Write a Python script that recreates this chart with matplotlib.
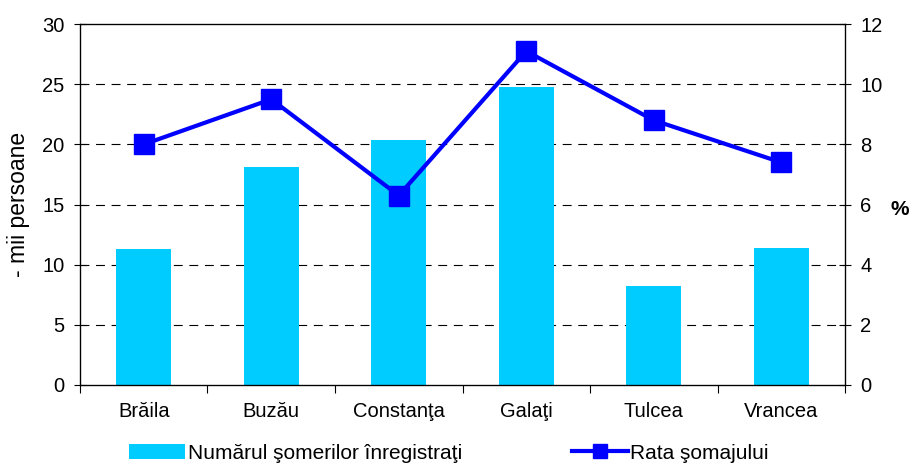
import matplotlib
matplotlib.use("Agg")
import matplotlib.pyplot as plt
from matplotlib.lines import Line2D
from matplotlib.patches import Patch

plt.rcParams['font.family'] = ['Liberation Sans', 'DejaVu Sans']

categories = ["Brăila", "Buzău", "Constanţa", "Galaţi", "Tulcea", "Vrancea"]
unemployed = [11.3, 18.1, 20.4, 24.8, 8.2, 11.4]
rate = [8.0, 9.5, 6.3, 11.1, 8.8, 7.4]
left_ticks = [0, 5, 10, 15, 20, 25, 30]
right_ticks = [0, 2, 4, 6, 8, 10, 12]

fs = 14.5
fig = plt.figure(figsize=(9.11, 4.63), dpi=100)
ax = fig.add_axes([0.0878, 0.1685, 0.8398, 0.7795])
x = list(range(len(categories)))
ax.bar(x, unemployed, width=0.43, color="#00CCFF", zorder=2)
ax.set_xlim(-0.5, 5.5)
ax.set_ylim(0, 30)
ax.set_yticks(left_ticks)
for v in left_ticks[1:-1]:
    ax.axhline(v, color="black", lw=0.8, ls=(0, (8, 6)), zorder=1)
ax.set_xticks([i + 0.5 for i in range(-1, 6)], minor=False)
ax.set_xticklabels([])
ax.set_xticks(x, minor=True)
ax.set_xticklabels(categories, minor=True, fontsize=fs)
ax.tick_params(axis='x', which='minor', length=0, pad=12)
ax.tick_params(axis='x', which='major', length=6, direction='out', width=0.8)
ax.tick_params(axis='y', direction='inout', length=8, labelsize=fs, width=0.8, pad=7)
ax.set_ylabel("- mii persoane", fontsize=16.5, va='center')
ax.yaxis.set_label_coords(-0.080, 0.5)
for s in ax.spines.values():
    s.set_linewidth(0.9)

ax2 = ax.twinx()
ax2.plot(x, rate, color="#0000FF", lw=3, marker="s", markersize=14, zorder=3)
ax2.set_ylim(0, 12)
ax2.set_yticks(right_ticks)
ax2.tick_params(axis='y', direction='inout', length=8, labelsize=fs, width=0.8, pad=7)
ax2.set_ylabel("%", fontsize=15, fontweight='bold', rotation=0, va='center', ha='center')
ax2.yaxis.set_label_coords(1.071, 0.485)

h1 = Patch(facecolor="#00CCFF", edgecolor="none")
h2 = Line2D([], [], color="#0000FF", lw=3, marker="s", markersize=9.5)
fig.legend([h1], ["Numărul şomerilor înregistraţi"], loc="center left",
           bbox_to_anchor=(0.1416, 0.021), frameon=False, fontsize=15,
           handlelength=2.7, handleheight=0.77, handletextpad=0.15, borderpad=0, borderaxespad=0)
fig.legend([h2], ["Rata şomajului"], loc="center left",
           bbox_to_anchor=(0.628, 0.021), frameon=False, fontsize=15,
           handlelength=2.7, handletextpad=0.1, borderpad=0, borderaxespad=0)

fig.savefig("out.png", dpi=100)
